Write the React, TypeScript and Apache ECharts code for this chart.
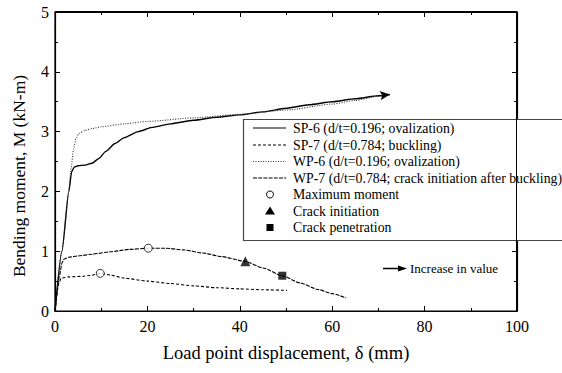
import React, { useEffect, useRef } from "react";
import * as echarts from "echarts";

const sp6X = [0, 1.5, 3.0, 3.6, 4.2, 5, 6.5, 8, 9.5, 11, 13, 15, 18, 21, 25, 30, 35, 40, 45, 50, 55, 60, 65, 70, 72.5];
const sp6M = [0, 1.0, 2.0, 2.33, 2.41, 2.43, 2.44, 2.47, 2.55, 2.67, 2.8, 2.9, 3.0, 3.07, 3.13, 3.19, 3.24, 3.28, 3.33, 3.39, 3.45, 3.5, 3.55, 3.6, 3.62];

const wp6X = [0, 1.5, 3.0, 3.5, 4.0, 4.5, 5.2, 6.5, 8, 10, 15, 20, 30, 40, 50, 60, 65, 70, 72.5];
const wp6M = [0, 1.0, 2.0, 2.4, 2.7, 2.88, 2.97, 3.02, 3.05, 3.08, 3.13, 3.17, 3.23, 3.29, 3.36, 3.46, 3.52, 3.59, 3.62];

const sp7X = [0, 0.8, 1.3, 3, 6, 8, 9.8, 12, 15, 20, 25, 30, 35, 40, 45, 50.2];
const sp7M = [0, 0.45, 0.55, 0.57, 0.58, 0.6, 0.63, 0.6, 0.55, 0.5, 0.46, 0.42, 0.39, 0.37, 0.355, 0.345];

const wp7X = [0, 1, 1.5, 2, 3, 5, 8, 12, 16, 20.2, 24, 28, 32, 36, 41.2, 45, 49.2, 53, 57, 60, 63];
const wp7M = [0, 0.6, 0.8, 0.87, 0.9, 0.92, 0.95, 0.99, 1.03, 1.05, 1.05, 1.02, 0.97, 0.91, 0.83, 0.72, 0.59, 0.47, 0.36, 0.29, 0.22];

const maxMoment = [[9.8, 0.63], [20.2, 1.05]];
const crackInit = [[41.2, 0.83]];
const crackPen = [[49.2, 0.59]];

const xTicks = [0, 20, 40, 60, 80, 100];
const yTicks = [0, 1, 2, 3, 4, 5];

const xTitle = "Load point displacement, δ (mm)";
const yTitle = "Bending moment, M (kN-m)";

const legendLabels = [
  "SP-6 (d/t=0.196; ovalization)",
  "SP-7 (d/t=0.784; buckling)",
  "WP-6 (d/t=0.196; ovalization)",
  "WP-7 (d/t=0.784; crack initiation after buckling)",
  "Maximum moment",
  "Crack initiation",
  "Crack penetration",
];

const FONT = "'Liberation Serif', 'Times New Roman', Times, serif";

const zip = (xs: number[], ys: number[]) => xs.map((x, i) => [x, ys[i]]);

export default function App() {
  const ref = useRef<HTMLDivElement>(null);
  useEffect(() => {
    if (!ref.current) return;
    const chart = echarts.init(ref.current, null, { renderer: "svg" });
    const lineSeries = (name: string, data: any[], type: any, width: number, color: string) => ({
      name,
      type: "line",
      data,
      showSymbol: false,
      symbol: "none",
      smooth: 0.2,
      smoothMonotone: "x",
      lineStyle: { color, width, type },
      z: 2,
    });
    const sp6Data: any[] = zip(sp6X, sp6M);
    sp6Data[sp6Data.length - 1] = {
      value: sp6Data[sp6Data.length - 1],
      symbol: "arrow",
      symbolSize: [7, 10],
      symbolRotate: -83,
      itemStyle: { color: "#000" },
    };
    const legendRows = [128, 145, 161.5, 178, 194.5, 211, 227.5];
    const legendStyles: any[] = [
      { lineWidth: 1.2, stroke: "#000" },
      { lineDash: [3, 2], lineWidth: 1, stroke: "#000" },
      { lineDash: [1, 1.5], lineWidth: 1, stroke: "#333" },
      { lineDash: [4, 1.2], lineWidth: 1, stroke: "#000" },
    ];
    const graphics: any[] = [
      {
        type: "rect",
        shape: { x: 243.5, y: 119.5, width: 330, height: 121 },
        style: { fill: "#fff", stroke: "#444", lineWidth: 1.2 },
        z: 10,
      },
      {
        type: "text",
        x: 19,
        y: 176,
        rotation: Math.PI / 2,
        style: {
          text: yTitle,
          fontFamily: FONT,
          fontSize: 17.5,
          fill: "#000",
          textAlign: "center",
          textVerticalAlign: "middle",
        },
      },
    ];
    legendLabels.forEach((lab, i) => {
      const y = legendRows[i];
      if (i < 4) {
        graphics.push({
          type: "line",
          shape: { x1: 253, y1: y, x2: 286, y2: y },
          style: legendStyles[i],
          z: 11,
        });
      } else if (i === 4) {
        graphics.push({
          type: "circle",
          shape: { cx: 270, cy: y, r: 3.5 },
          style: { fill: "#fff", stroke: "#000", lineWidth: 1 },
          z: 11,
        });
      } else if (i === 5) {
        graphics.push({
          type: "polygon",
          shape: { points: [[270, y - 4.5], [265, y + 3.5], [275, y + 3.5]] },
          style: { fill: "#000" },
          z: 11,
        });
      } else {
        graphics.push({
          type: "rect",
          shape: { x: 266.5, y: y - 3.5, width: 7, height: 7 },
          style: { fill: "#000" },
          z: 11,
        });
      }
      graphics.push({
        type: "text",
        x: 293,
        y,
        style: { text: lab, fontFamily: FONT, fontSize: 13.8, fill: "#000", textVerticalAlign: "middle" },
        z: 11,
      });
    });
    graphics.push(
      {
        type: "line",
        shape: { x1: 383, y1: 268.5, x2: 400, y2: 268.5 },
        style: { stroke: "#000", lineWidth: 1.5 },
        z: 11,
      },
      {
        type: "polygon",
        shape: { points: [[398, 265.5], [407, 268.5], [398, 271.5]] },
        style: { fill: "#000" },
        z: 11,
      },
      {
        type: "text",
        x: 410,
        y: 268.5,
        style: { text: "Increase in value", fontFamily: FONT, fontSize: 13, fill: "#000", textVerticalAlign: "middle" },
        z: 11,
      }
    );

    const tickCommon = {
      axisTick: { show: true, inside: true, length: 5, lineStyle: { color: "#000", width: 1 } },
      minorTick: { show: true, splitNumber: 2, length: 3, lineStyle: { color: "#000", width: 1 } },
      splitLine: { show: false },
    };

    chart.setOption({
      animation: false,
      backgroundColor: "#fff",
      textStyle: { fontFamily: FONT },
      grid: {
        left: 55,
        right: 45,
        top: 12,
        bottom: 62,
        show: true,
        borderColor: "#000",
        borderWidth: 1.2,
        backgroundColor: "rgba(0,0,0,0)",
      },
      xAxis: [
        {
          type: "value",
          min: xTicks[0],
          max: xTicks[xTicks.length - 1],
          interval: 20,
          name: xTitle,
          nameLocation: "middle",
          nameGap: 32,
          nameTextStyle: { fontFamily: FONT, fontSize: 18.5, color: "#000" },
          axisLabel: { fontFamily: FONT, fontSize: 16, color: "#000", margin: 7 },
          axisLine: { show: true, onZero: false, lineStyle: { color: "#000", width: 1.2 } },
          ...tickCommon,
        },
        {
          type: "value",
          position: "top",
          min: xTicks[0],
          max: xTicks[xTicks.length - 1],
          interval: 20,
          axisLabel: { show: false },
          axisLine: { show: true, onZero: false, lineStyle: { color: "#000", width: 1.2 } },
          ...tickCommon,
        },
      ],
      yAxis: [
        {
          type: "value",
          min: yTicks[0],
          max: yTicks[yTicks.length - 1],
          interval: 1,
          axisLabel: { fontFamily: FONT, fontSize: 16, color: "#000", margin: 6 },
          axisLine: { show: true, onZero: false, lineStyle: { color: "#000", width: 1.2 } },
          ...tickCommon,
        },
        {
          type: "value",
          position: "right",
          min: yTicks[0],
          max: yTicks[yTicks.length - 1],
          interval: 1,
          axisLabel: { show: false },
          axisLine: { show: true, onZero: false, lineStyle: { color: "#000", width: 1.2 } },
          ...tickCommon,
        },
      ],
      series: [
        {
          ...lineSeries("SP-6", sp6Data, "solid", 1.4, "#000"),
          showSymbol: true,
          symbol: "none",
        },
        lineSeries("SP-7", zip(sp7X, sp7M), [3, 2], 1.1, "#000"),
        lineSeries("WP-6", zip(wp6X, wp6M), [1, 1.5], 1.1, "#333"),
        lineSeries("WP-7", zip(wp7X, wp7M), [4, 1.2], 1.1, "#000"),
        {
          name: "Maximum moment",
          type: "scatter",
          data: maxMoment,
          symbol: "circle",
          symbolSize: 8,
          itemStyle: { color: "#fff", borderColor: "#000", borderWidth: 1 },
          z: 5,
        },
        {
          name: "Crack initiation",
          type: "scatter",
          data: crackInit,
          symbol: "triangle",
          symbolSize: 10,
          itemStyle: { color: "#000" },
          z: 5,
        },
        {
          name: "Crack penetration",
          type: "scatter",
          data: crackPen,
          symbol: "rect",
          symbolSize: 8,
          itemStyle: { color: "#000" },
          z: 5,
        },
      ],
      graphic: graphics,
    });

    return () => chart.dispose();
  }, []);
  return (
    <div style={{ position: "fixed", left: 0, top: 0, width: 562, height: 373, background: "#fff" }}>
      <div ref={ref} style={{ position: "absolute", left: 0, top: 0, width: 562, height: 373 }} />
      <div
        style={{
          position: "absolute",
          left: 55,
          top: 11,
          width: 462,
          height: 300,
          borderTop: "1px solid #000",
          borderRight: "1px solid #000",
          boxSizing: "border-box",
          pointerEvents: "none",
        }}
      />
    </div>
  );
}
